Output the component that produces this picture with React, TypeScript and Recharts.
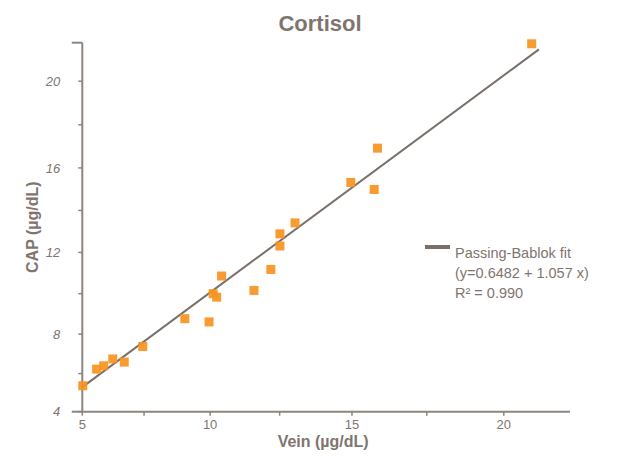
import React from "react";
import { Label, Legend, ReferenceLine, Scatter, ScatterChart, XAxis, YAxis } from "recharts";

const title = "Cortisol";
const xTitle = "Vein (µg/dL)";
const yTitle = "CAP (µg/dL)";

// measured points (vein, capillary)
const veinValues = [5.02, 5.6, 5.89, 6.26, 6.72, 7.45, 9.06, 9.96, 10.11, 10.24, 10.42, 11.59, 12.19, 12.51, 12.51, 13.04, 14.96, 15.75, 15.86, 20.89];
const capValues = [5.37, 6.23, 6.4, 6.75, 6.59, 7.38, 8.77, 8.61, 10.0, 9.83, 10.86, 10.16, 11.18, 12.31, 12.89, 13.41, 15.32, 14.99, 16.92, 21.7];

// fit line end points as drawn
const fitVein = [5, 21.12];
const fitCap = [5.3, 21.45];

const xTicks = [5, 7.5, 10, 12.5, 15, 17.5, 20];
const xLabelTicks = [5, 10, 15, 20];
const yTicks = [4, 6, 8, 10, 12, 14, 16, 18, 20];
const yLabelTicks = [4, 8, 12, 16, 20];
const legendLines = ["Passing-Bablok fit", "(y=0.6482 + 1.057 x)", "R² = 0.990"];

const FONT = "'Liberation Sans', Arial, sans-serif";
const TEXT = "#7f756f";
const AXIS = "#8e8580";
const LINE = "#7a706a";
const ORANGE = "#f7931e";

const points = veinValues.map((v, i) => ({ vein: v, cap: capValues[i] }));
const fitData = fitVein.map((v, i) => ({ vein: v, cap: fitCap[i] }));

// the original axes are slightly stretched, a power scale follows them
function powScale(k: number): any {
  let dom = [0, 1];
  let rng = [0, 1];
  const f = (v: number) => Math.pow(v, k);
  const s: any = (v: number) => {
    const t = (f(v) - f(dom[0])) / (f(dom[1]) - f(dom[0]));
    return rng[0] + t * (rng[1] - rng[0]);
  };
  s.domain = (d?: any[]) => {
    if (!d) return dom.slice();
    dom = d.map(Number);
    return s;
  };
  s.range = (r?: any[]) => {
    if (!r) return rng.slice();
    rng = r.map(Number);
    return s;
  };
  s.invert = (p: number) =>
    Math.pow(f(dom[0]) + ((p - rng[0]) / (rng[1] - rng[0])) * (f(dom[1]) - f(dom[0])), 1 / k);
  s.ticks = (n = 5) => {
    const step = (dom[1] - dom[0]) / n;
    return Array.from({ length: n + 1 }, (_, i) => dom[0] + i * step);
  };
  s.copy = () => powScale(k).domain(dom).range(rng);
  return s;
}

const xScale = powScale(1.2);
const yScale = powScale(1.1);

const Square = (props: any) => {
  const { cx, cy } = props;
  if (cx == null || cy == null) return <g />;
  return <rect x={cx - 4.5} y={cy - 4.5} width={9} height={9} fill={ORANGE} fillOpacity={0.92} />;
};

const YTitle = (props: any) => {
  const vb = props.viewBox;
  const cy = vb.y + vb.height / 2;
  return (
    <text
      x={25}
      y={cy}
      transform={`rotate(-90 25 ${cy})`}
      textAnchor="middle"
      dominantBaseline="central"
      fill={TEXT}
      fontSize={16}
      fontWeight="bold"
      fontFamily={FONT}
    >
      {yTitle}
    </text>
  );
};

const renderLegend = (props: any) => {
  const item = (props.payload || []).find((p: any) => p.value === "fit");
  const color = item?.color ?? LINE;
  return (
    <div style={{ display: "flex", alignItems: "flex-start", fontFamily: FONT, fontSize: 14.5, color: TEXT, lineHeight: "20px" }}>
      <span style={{ display: "inline-block", width: 25, height: 4, background: color, marginTop: 2, marginRight: 5 }} />
      <div>
        {legendLines.map((l) => (
          <div key={l}>{l}</div>
        ))}
      </div>
    </div>
  );
};

export default function App() {
  return (
    <div style={{ position: "relative", width: 616, height: 450, fontFamily: FONT }}>
      <div
        style={{
          position: "absolute",
          left: 212,
          top: 3,
          width: 200,
          textAlign: "center",
          fontSize: 22,
          lineHeight: "26px",
          fontWeight: "bold",
          color: TEXT,
        }}
      >
        {title}
      </div>
      <ScatterChart width={616} height={450} margin={{ top: 34.7, right: 54, bottom: 0, left: 0 }}>
        <XAxis
          type="number"
          dataKey="vein"
          scale={xScale}
          domain={[5, 22.1]}
          ticks={xTicks}
          tickFormatter={(v: number) => (xLabelTicks.includes(v) ? String(v) : "")}
          height={46.3}
          tickSize={4}
          tickMargin={4}
          stroke={AXIS}
          axisLine={{ stroke: AXIS, strokeWidth: 2 }}
          tickLine={{ stroke: AXIS, strokeWidth: 1.5 }}
          tick={{ fill: TEXT, fontSize: 13, fontFamily: FONT }}
        >
          <Label
            value={xTitle}
            position="insideBottom"
            offset={11}
            dx={-3}
            fill={TEXT}
            fontSize={16}
            fontWeight="bold"
            fontFamily={FONT}
          />
        </XAxis>
        <YAxis
          type="number"
          dataKey="cap"
          scale={yScale}
          domain={[4, 21.75]}
          ticks={yTicks}
          tickFormatter={(v: number) => (yLabelTicks.includes(v) ? String(v) : "")}
          width={74.3}
          tickSize={4}
          tickMargin={18}
          stroke={AXIS}
          axisLine={{ stroke: AXIS, strokeWidth: 2 }}
          tickLine={{ stroke: AXIS, strokeWidth: 1.5 }}
          tick={{ fill: TEXT, fontSize: 13, fontStyle: "italic", fontFamily: FONT }}
          label={<YTitle />}
        />
        <ReferenceLine
          segment={[{ x: 4.55, y: 4 }, { x: 5, y: 4 }]}
          stroke={AXIS}
          strokeWidth={2}
          ifOverflow="visible"
        />
        <ReferenceLine
          segment={[{ x: 4.55, y: 21.75 }, { x: 5, y: 21.75 }]}
          stroke={AXIS}
          strokeWidth={2}
          ifOverflow="visible"
        />
        <Scatter
          name="fit"
          data={fitData}
          line={{ stroke: LINE, strokeWidth: 2 }}
          fill={LINE}
          shape={() => <g />}
          isAnimationActive={false}
        />
        <Scatter
          name="points"
          data={points}
          fill={ORANGE}
          shape={<Square />}
          legendType="none"
          isAnimationActive={false}
        />
        <Legend
          layout="vertical"
          align="center"
          verticalAlign="middle"
          content={renderLegend}
          wrapperStyle={{ left: 417, top: 235, width: 200 }}
        />
      </ScatterChart>
    </div>
  );
}
